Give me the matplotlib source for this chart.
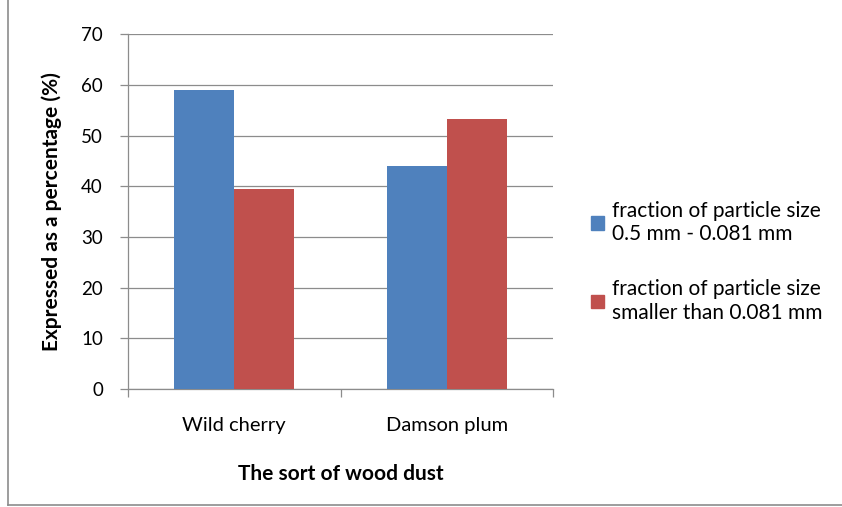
import numpy as np
import matplotlib.pyplot as plt
from matplotlib.lines import Line2D
from matplotlib.patches import Patch

plt.rcParams['font.family'] = ['Lato', 'DejaVu Sans']

categories = ['Wild cherry', 'Damson plum']
coarse = [58.9, 44.0]
fine = [39.4, 53.2]
series_names = ['fraction of particle size\n0.5 mm - 0.081 mm',
                'fraction of particle size\nsmaller than 0.081 mm']
colors = ['#4F81BD', '#C0504D']

fig = plt.figure(figsize=(8.42, 5.07), dpi=100)
ax = fig.add_axes([0.152, 0.2327, 0.505, 0.700])

x = np.arange(len(categories))
w = 0.282
ax.bar(x - w/2, coarse, w, color=colors[0], zorder=3)
ax.bar(x + w/2, fine, w, color=colors[1], zorder=3)

ax.set_xlim(-0.5, 1.5)
ax.set_ylim(0, 70)
ax.set_yticks(range(0, 71, 10))
ax.yaxis.grid(True, color='#8c8c8c', linewidth=0.9, zorder=0)
ax.set_axisbelow(True)

ax.set_xticks(x)
ax.set_xticklabels(categories, fontsize=14.5)
ax.set_xticks([-0.5, 0.5, 1.5], minor=True)
ax.tick_params(axis='x', which='major', length=0, pad=20)
ax.tick_params(axis='x', which='minor', length=6, color='#8c8c8c', width=0.9)
ax.tick_params(axis='y', length=6, color='#8c8c8c', width=0.9, labelsize=13.5, pad=12)

for s in ['top', 'right']:
    ax.spines[s].set_visible(False)
for s in ['left', 'bottom']:
    ax.spines[s].set_color('#8c8c8c')
    ax.spines[s].set_linewidth(0.9)

ax.set_ylabel('Expressed as a percentage (%)', fontsize=15, fontweight='bold', labelpad=14)
ax.set_xlabel('The sort of wood dust', fontsize=15, fontweight='bold', labelpad=22)

handles = [Patch(facecolor=c, edgecolor=c) for c in colors]
fig.legend(handles, series_names, loc='center left', bbox_to_anchor=(0.68, 0.484),
           frameon=False, fontsize=15, handlelength=0.6, handleheight=0.6,
           handletextpad=0.4, labelspacing=1.7)

# outer chart border (left and bottom visible)
fig.add_artist(Line2D([0.0095, 0.0095], [0.004, 1.0], color='#8c8c8c', linewidth=1.2))
fig.add_artist(Line2D([0.0095, 1.0], [0.004, 0.004], color='#8c8c8c', linewidth=1.2))

fig.savefig('out.png', dpi=100)
